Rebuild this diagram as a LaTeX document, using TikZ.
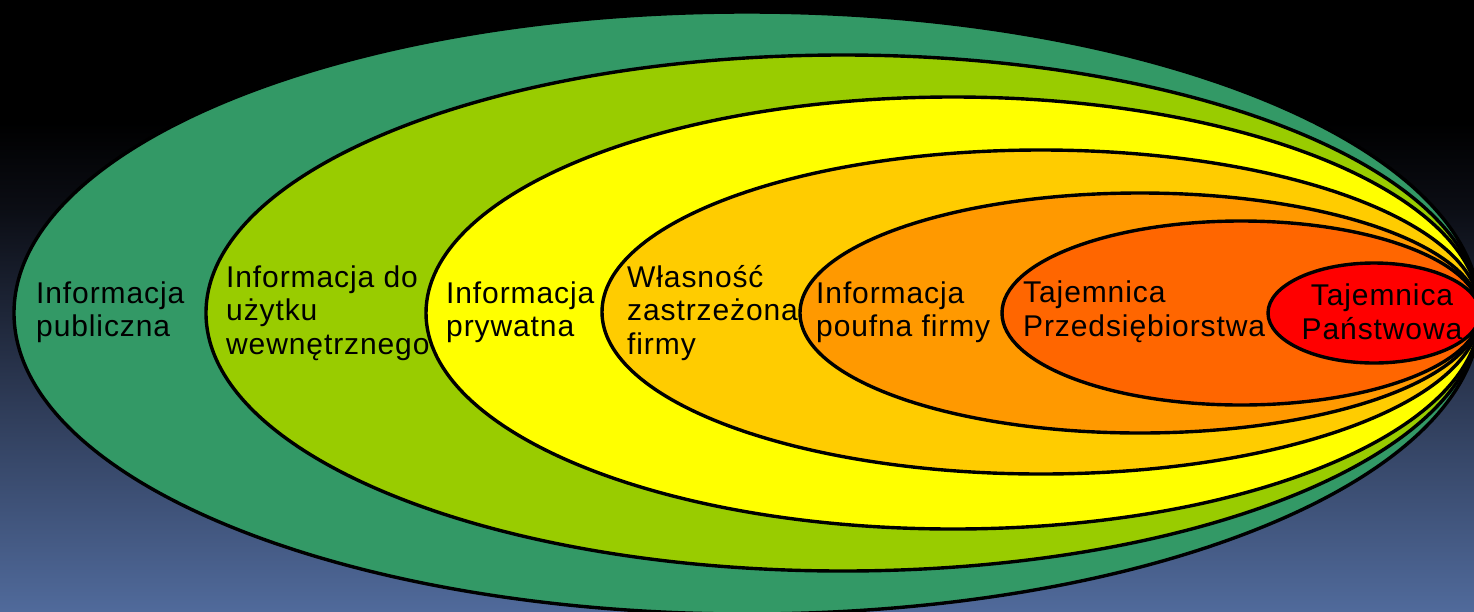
\documentclass[tikz,border=0pt]{standalone}
\usepackage{fontspec}
\newfontfamily\lbl[LetterSpace=3]{Liberation Sans}
\definecolor{cGreen}{HTML}{339966}
\definecolor{cLime}{HTML}{99CC00}
\definecolor{cYellow}{HTML}{FFFF00}
\definecolor{cGold}{HTML}{FFCC00}
\definecolor{cOrange}{HTML}{FF9900}
\definecolor{cDark}{HTML}{FF6600}
\definecolor{cRed}{HTML}{FF0000}
\definecolor{bgA}{HTML}{506A9B}
\definecolor{bgB}{HTML}{2E3B57}
\definecolor{bgC}{HTML}{0B0D14}
\pgfdeclareverticalshading{bgshade}{100bp}{color(0bp)=(bgA); color(25bp)=(bgA); color(42bp)=(bgB); color(58bp)=(bgC); color(65bp)=(black); color(100bp)=(black)}
\tikzset{
  ring/.style={draw=black, line width=3.4pt},
  lab/.style={anchor=west, align=left, inner sep=0pt, font=\lbl\fontsize{30}{33.5}\selectfont}
}
\begin{document}
\begin{tikzpicture}[x=1pt,y=-1pt]
\useasboundingbox (0,0) rectangle (1474,611);
\shade[shading=bgshade] (0,0) rectangle (1474,611);
\begin{scope}
\clip (0,0) rectangle (1474,611);
\filldraw[ring, fill=cGreen]  (747,313) ellipse [x radius=733pt, y radius=301pt];
\filldraw[ring, fill=cLime]   (843,313) ellipse [x radius=637pt, y radius=258pt];
\filldraw[ring, fill=cYellow] (953,313) ellipse [x radius=527pt, y radius=216pt];
\filldraw[ring, fill=cGold]   (1041,312) ellipse [x radius=439pt, y radius=162pt];
\filldraw[ring, fill=cOrange] (1140,313) ellipse [x radius=340pt, y radius=120pt];
\filldraw[ring, fill=cDark]   (1241,313) ellipse [x radius=239pt, y radius=92pt];
\filldraw[ring, fill=cRed]    (1374,313) ellipse [x radius=106pt, y radius=50pt];
\end{scope}
\node[lab] (t1) at (36,312) {Informacja\\publiczna};
\node[lab] (t2) at (226,313) {Informacja do\\użytku\\wewnętrznego};
\node[lab] (t3) at (446,312) {Informacja\\prywatna};
\node[lab] (t4) at (627,313) {Własność\\zastrzeżona\\firmy};
\node[lab] (t5) at (816,312) {Informacja\\poufna firmy};
\node[lab] (t6) at (1023,312) {Tajemnica\\Przedsiębiorstwa};
\node[lab, anchor=center, align=center] (t7) at (1382,312) {Tajemnica\\Państwowa};
\end{tikzpicture}
\end{document}
